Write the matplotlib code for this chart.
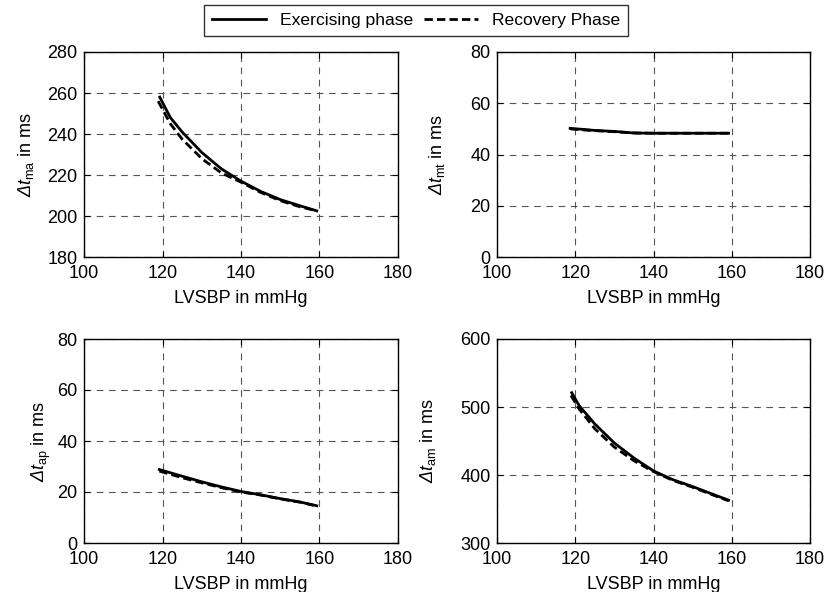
import matplotlib
matplotlib.use("Agg")
import matplotlib.pyplot as plt
from matplotlib.lines import Line2D

plt.rcParams['font.family'] = ['Liberation Sans', 'DejaVu Sans']
plt.rcParams['mathtext.fontset'] = 'custom'
plt.rcParams['mathtext.rm'] = 'Liberation Sans'
plt.rcParams['mathtext.it'] = 'Liberation Sans:italic'
plt.rcParams['mathtext.sf'] = 'Liberation Sans:italic'

# --- data ---
x_ma_ex = [119.3, 122, 125, 130, 135, 140, 145, 150, 155, 159.3]
y_ma_ex = [258, 248, 241, 231, 223, 217, 212, 208, 205, 202.5]
x_ma_rc = [118.9, 122, 125, 130, 135, 140, 145, 150, 155, 159.3]
y_ma_rc = [256, 245, 237.5, 228, 221, 216.5, 211.5, 207.5, 204.5, 202.5]

x_mt_ex = [118.7, 122, 125, 130, 135, 140, 150, 159.2]
y_mt_ex = [50.2, 49.8, 49.4, 49.0, 48.4, 48.3, 48.3, 48.3]
x_mt_rc = [118.7, 122, 125, 130, 135, 140, 150, 159.2]
y_mt_rc = [50.0, 49.6, 49.3, 48.9, 48.4, 48.3, 48.3, 48.3]

x_ap_ex = [119.2, 125, 130, 135, 140, 145, 150, 155, 159.3]
y_ap_ex = [28.8, 26.2, 24.0, 22.0, 20.2, 18.9, 17.4, 16.1, 14.6]
x_ap_rc = [119.2, 125, 130, 135, 140, 145, 150, 155, 159.3]
y_ap_rc = [28.2, 25.6, 23.6, 21.7, 20.0, 18.8, 17.3, 16.0, 14.5]

x_am_ex = [119.1, 121, 125, 130, 135, 140, 145, 150, 155, 159.2]
y_am_ex = [521, 502, 475, 447, 425, 406, 393, 383, 372, 363]
x_am_rc = [118.9, 121, 125, 130, 135, 140, 145, 150, 155, 159.2]
y_am_rc = [517, 497, 468, 441, 421, 405, 392, 382, 371, 362]

xticks = [100, 120, 140, 160, 180]
panels = [
    dict(xe=x_ma_ex, ye=y_ma_ex, xr=x_ma_rc, yr=y_ma_rc, ylim=(180, 280),
         yticks=[180, 200, 220, 240, 260, 280], sub='ma'),
    dict(xe=x_mt_ex, ye=y_mt_ex, xr=x_mt_rc, yr=y_mt_rc, ylim=(0, 80),
         yticks=[0, 20, 40, 60, 80], sub='mt'),
    dict(xe=x_ap_ex, ye=y_ap_ex, xr=x_ap_rc, yr=y_ap_rc, ylim=(0, 80),
         yticks=[0, 20, 40, 60, 80], sub='ap'),
    dict(xe=x_am_ex, ye=y_am_ex, xr=x_am_rc, yr=y_am_rc, ylim=(300, 600),
         yticks=[300, 400, 500, 600], sub='am'),
]

W, H = 828, 592
fig = plt.figure(figsize=(W / 100, H / 100), dpi=100)
rects = [(84, 52, 398, 257), (497, 52, 810, 257),
         (84, 339, 398, 543), (497, 339, 810, 543)]
ylab_x = [-0.153, -0.16, -0.10, -0.19]

for p, (l, t, r, b), lx in zip(panels, rects, ylab_x):
    ax = fig.add_axes([l / W, 1 - b / H, (r - l) / W, (b - t) / H])
    ax.plot(p['xe'], p['ye'], color='black', lw=2.0, linestyle='-', zorder=3)
    ax.plot(p['xr'], p['yr'], color='black', lw=2.0, linestyle=(0, (3, 1.5)), zorder=3)
    ax.set_xlim(100, 180)
    ax.set_ylim(*p['ylim'])
    ax.set_xticks(xticks)
    ax.set_yticks(p['yticks'])
    ax.grid(True, color='#555555', linestyle=(0, (6, 5)), linewidth=0.8)
    ax.tick_params(direction='in', length=4, labelsize=13, top=True, right=True)
    ax.tick_params(axis='x', pad=5.8)
    ax.tick_params(axis='y', pad=4.5)
    for s in ax.spines.values():
        s.set_linewidth(1.0)
    ax.set_xlabel('LVSBP in mmHg', fontsize=13, labelpad=6)
    ax.set_ylabel(r'$\mathsf{Δ}\mathit{t}_{\mathrm{%s}}$ in ms' % p['sub'], fontsize=13)
    ax.yaxis.set_label_coords(lx, 0.5)

handles = [Line2D([], [], color='black', lw=2.0, linestyle='-'),
           Line2D([], [], color='black', lw=2.0, linestyle=(0, (3, 1.5)))]
leg = fig.legend(handles, ['Exercising phase', 'Recovery Phase'], ncol=2,
                 loc='upper center', bbox_to_anchor=(416 / W, 1 - 5 / H),
                 fontsize=12.6, frameon=True, fancybox=False, edgecolor='black',
                 handlelength=3.1, columnspacing=0.6, handletextpad=0.8,
                 borderpad=0.45, borderaxespad=0)
leg.get_frame().set_linewidth(1.0)

fig.savefig('out.png', dpi=100)
